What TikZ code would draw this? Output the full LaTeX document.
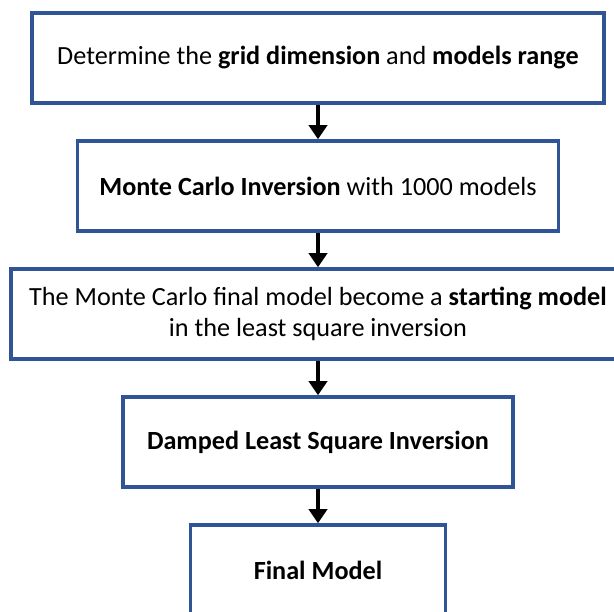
\documentclass[tikz,border=0pt]{standalone}
\usepackage{fontspec}
\setmainfont{Carlito}
\usepackage{tikz}
\usetikzlibrary{positioning,arrows.meta}
\definecolor{boxblue}{HTML}{2F5597}

\begin{document}
\begin{tikzpicture}[x=1pt,y=-1pt,node distance=34.5pt,
      box/.style={draw=boxblue,fill=white,line width=3.5pt,minimum height=90pt,
                  align=center,inner sep=0pt,font=\fontsize{26.2}{31}\selectfont},
      arr/.style={-{Triangle[width=18pt,length=14pt]},black,line width=4.5pt}]
    \useasboundingbox (0,0) rectangle (614,612);
    \node[box,minimum width=572pt](grid) at (318,58){%
      Determine the \textbf{grid dimension} and \textbf{models range}};
    \node[box,minimum width=481pt,below=of grid](mc){%
      \textbf{Monte Carlo Inversion} with 1000 models};
    \node[box,minimum width=614pt,below=of mc](start){%
      The Monte Carlo final model become a \textbf{starting model}\\
      in the least square inversion};
    \node[box,minimum width=390pt,below=of start](dls){%
      \textbf{Damped Least Square Inversion}};
    \node[box,minimum width=255pt,below=of dls](final){%
      \textbf{Final Model}};
    \draw[arr](grid)--(mc);
    \draw[arr](mc)--(start);
    \draw[arr](start)--(dls);
    \draw[arr](dls)--(final);
  \end{tikzpicture}
\end{document}
